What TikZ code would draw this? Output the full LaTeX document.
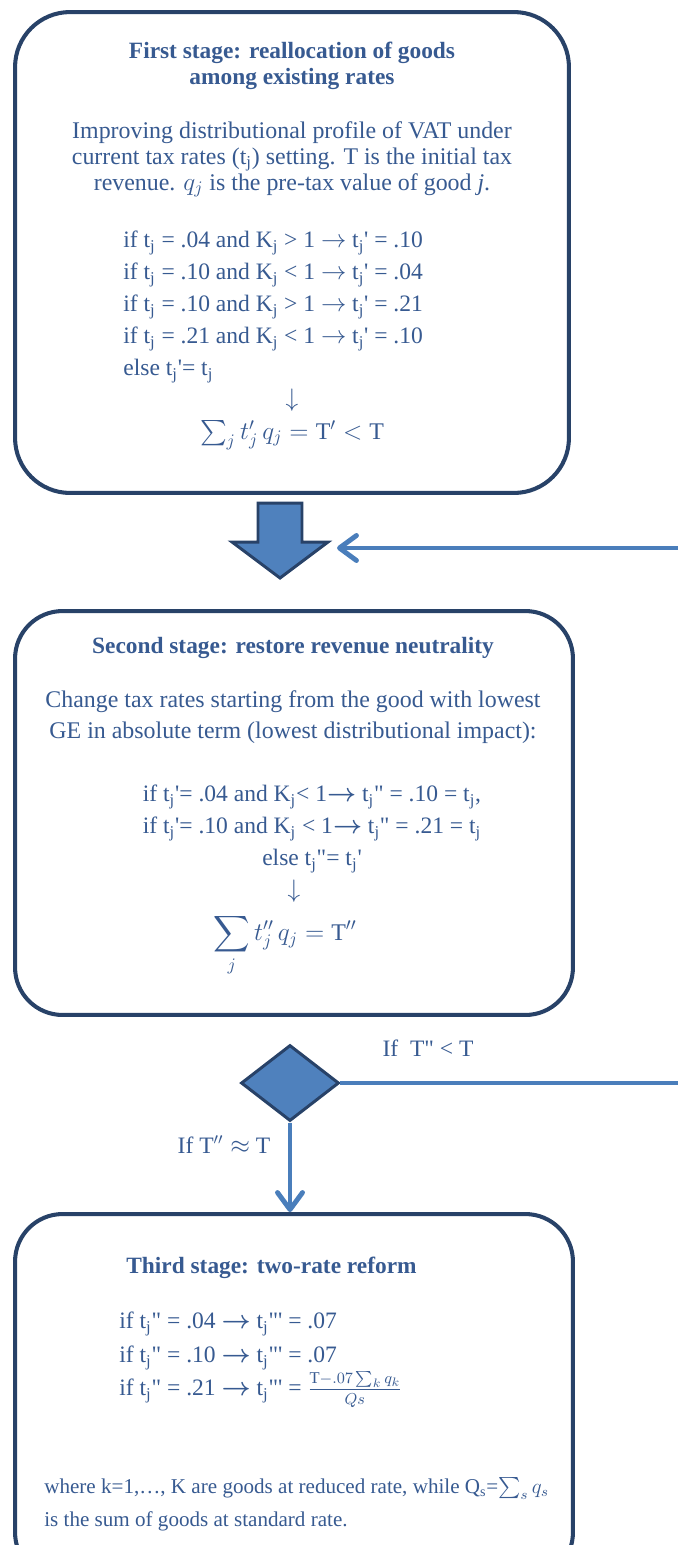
\documentclass[tikz,border=0pt]{standalone}
\usepackage{amsmath}
\usepackage{fontspec}
\setmainfont{Liberation Serif}
\usetikzlibrary{positioning,arrows.meta,shapes.geometric}
\definecolor{navy}{RGB}{40,66,104}
\definecolor{accent}{RGB}{79,129,189}
\definecolor{link}{RGB}{74,126,187}
\definecolor{ink}{RGB}{55,90,145}
\newcommand{\tj}{t\textsubscript{j}}
\newcommand{\Kj}{K\textsubscript{j}}
\newcommand{\qs}{\textquotesingle}
\newcommand{\qd}{\textquotedbl}
\newcommand{\ra}{$\rightarrow$}
\newcommand{\bra}{$\boldsymbol{\rightarrow}$}
\tikzset{
  stagebox/.style={rectangle, rounded corners=1.1cm, draw=navy, line width=2.3pt, fill=white},
  ttl/.style={font=\fontsize{13.3}{14.8}\selectfont\bfseries, text=ink, align=center, inner sep=0pt},
  body/.style={font=\fontsize{13.6}{14.8}\selectfont, text=ink, align=center, inner sep=0pt},
  rules/.style={font=\fontsize{13.4}{18.2}\selectfont, text=ink, inner sep=0pt},
  note/.style={font=\fontsize{12}{18.8}\selectfont, text=ink, align=left, inner sep=0pt},
  iflab/.style={font=\fontsize{13.4}{14.8}\selectfont, text=ink, inner sep=0pt},
  decision/.style={diamond, draw=navy, fill=accent, line width=1.7pt, inner sep=0pt,
                   minimum width=1.96cm, minimum height=1.52cm},
  flow/.style={draw=link, line width=2.8pt, -{Straight Barb[length=3.4mm, width=5mm, round]}},
  flowline/.style={draw=link, line width=2.8pt},
}
\begin{document}
\begin{tikzpicture}[x=0.02cm, y=-0.02cm]
  \useasboundingbox (0,0) rectangle (678,1545);
  \clip (0,0) rectangle (678,1545);
  % first stage
  \node[stagebox, minimum width=11.08cm, minimum height=9.62cm] (s1) at (292,252.5) {};
  \node[ttl, anchor=north] (t1) at (292,42) {First stage: reallocation of goods\\among existing rates};
  \node[body, anchor=north] (p1) at (292,121) {Improving distributional profile of VAT under\\
    current tax rates (\tj) setting. T is the initial tax\\
    revenue. $q_j$ is the pre-tax value of good \textit{j}.};
  \node[rules, anchor=north west, align=left] (r1) at (123,231) {%
    if \tj{} = .04 and \Kj{} > 1 \ra{} \tj\qs{} = .10\\
    if \tj{} = .10 and \Kj{} < 1 \ra{} \tj\qs{} = .04\\
    if \tj{} = .10 and \Kj{} > 1 \ra{} \tj\qs{} = .21\\
    if \tj{} = .21 and \Kj{} < 1 \ra{} \tj\qs{} = .10\\
    else \tj\qs= \tj};
  \node[body] (d1) at (292,400) {$\downarrow$};
  \node[body] (e1) at (292,435) {$\textstyle\sum_j t_j^{\prime}\, q_j = \mathrm{T}^{\prime} < \mathrm{T}$};
  % block arrow and loop back
  \draw[navy, fill=accent, line width=1.7pt, line join=miter]
    (258,503) -- (302,503) -- (302,542) -- (328,542) -- (280,578) -- (232,542) -- (258,542) -- cycle;
  \coordinate (bigarr) at (337,548);
  \coordinate (loopin) at (680,548);
  \draw[flow] (loopin) -- (bigarr);
  % second stage
  \node[stagebox, rounded corners=0.95cm, minimum width=11.16cm, minimum height=8.08cm] (s2) at (294,813) {};
  \node[ttl] (t2) at (293,648) {Second stage: restore revenue neutrality};
  \node[body, anchor=north, font=\fontsize{13.6}{17.6}\selectfont] (p2) at (293,690) {Change tax rates starting from the good with lowest\\
    GE in absolute term (lowest distributional impact):};
  \node[rules, anchor=north, align=center] (r2) at (312,785) {%
    if \tj\qs= .04 and \Kj< 1\bra{} \tj\qd{} = .10 = \tj,\\
    if \tj\qs= .10 and \Kj{} < 1\bra{} \tj\qd{} = .21 = \tj\\
    else \tj\qd= \tj\qs};
  \node[body] (d2) at (294,891) {$\downarrow$};
  \node[body] (e2) at (285,945) {$\displaystyle\sum_j t_j^{\prime\prime}\, q_j = \mathrm{T}^{\prime\prime}$};
  % decision
  \node[decision] (dec) at (290,1083) {};
  \coordinate (loopout) at (680,1083);
  \draw[flowline] (dec.east) -- (loopout);
  \node[iflab] (lab1) at (428,1048) {If \ T\qd{} < T};
  \node[iflab] (lab2) at (224,1145) {If T$^{\prime\prime}\approx$ T};
  % third stage
  \node[stagebox, rounded corners=0.95cm, minimum width=11.16cm, minimum height=7.32cm] (s3) at (294,1397) {};
  \draw[flow] (dec.south) -- (dec.south |- s3.north);
  \node[ttl, anchor=west] (t3) at (126,1268) {Third stage: two-rate reform};
  \node[rules, anchor=north west, align=left, font=\fontsize{13.4}{19}\selectfont] (r3) at (119,1312) {%
    if \tj\qd{} = .04 \bra{} \tj\qd\qs{} = .07\\
    if \tj\qd{} = .10 \bra{} \tj\qd\qs{} = .07\\
    if \tj\qd{} = .21 \bra{} \tj\qd\qs{} = $\frac{\mathrm{T}-.07\sum_k q_k}{Qs}$};
  \node[note, anchor=north west] (n3) at (44,1477) {where k=1,…, K are goods at reduced rate, while Q\textsubscript{s}=$\sum_s q_s$\\
    is the sum of goods at standard rate.};
\end{tikzpicture}
\end{document}
